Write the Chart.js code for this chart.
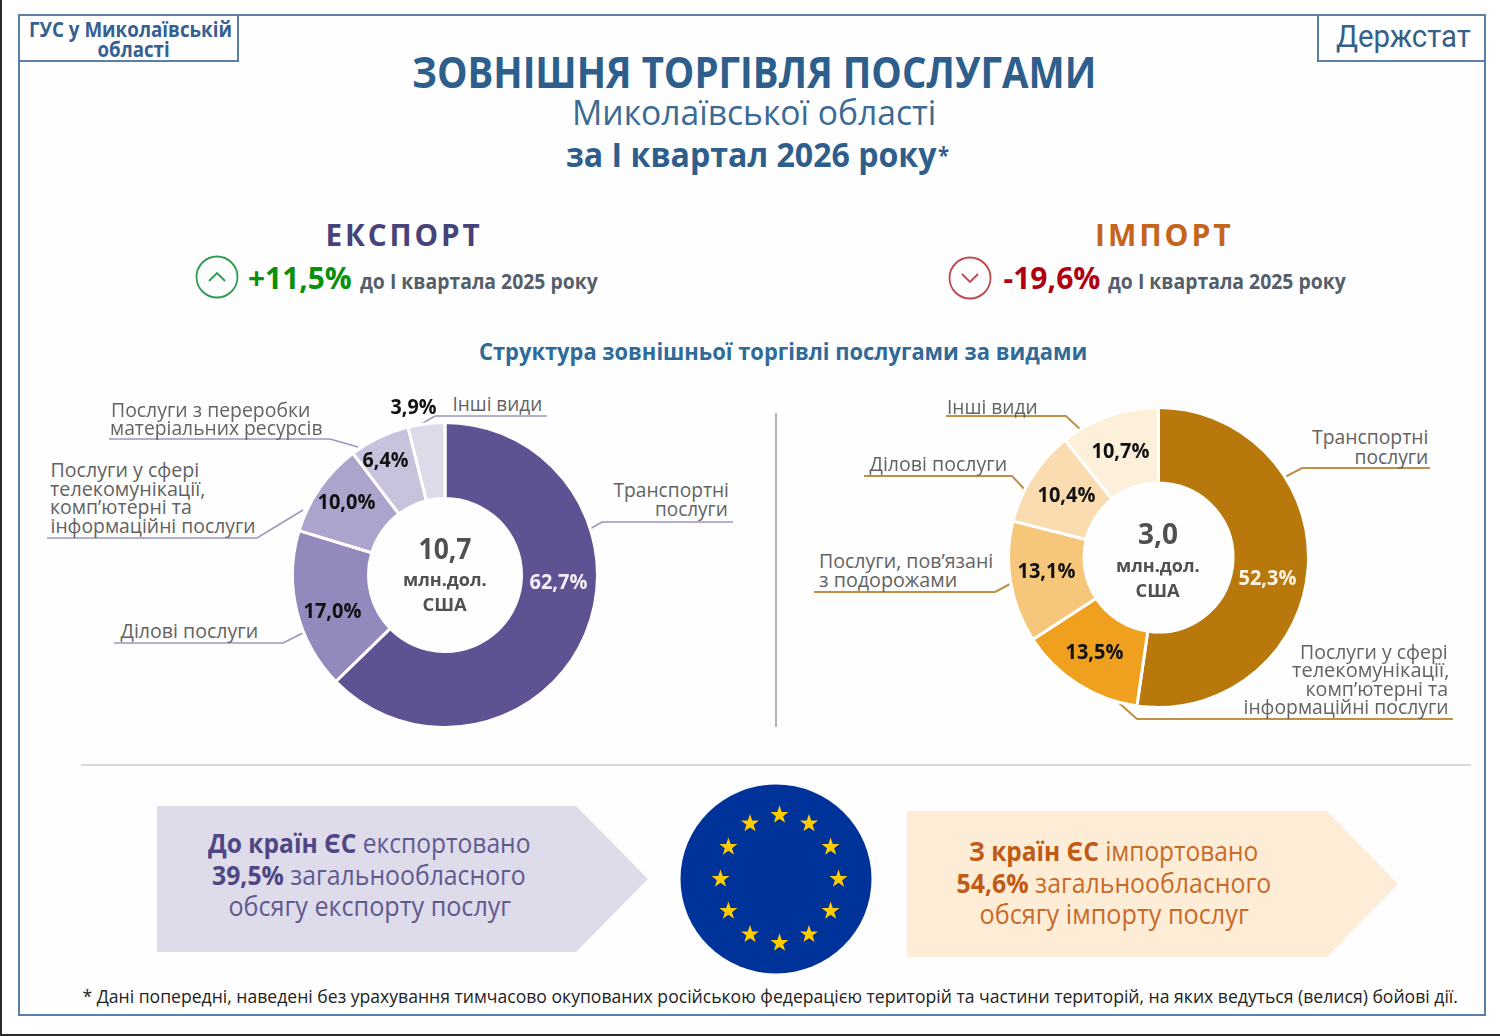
<!DOCTYPE html>
<html lang="uk">
<head>
<meta charset="utf-8">
<title>Зовнішня торгівля послугами</title>
<script src="https://cdn.jsdelivr.net/npm/chart.js@4"></script>
<style>
  html, body { margin: 0; padding: 0; background: #fff; }
  #page { position: relative; width: 1500px; height: 1036px; overflow: hidden; background: #fff;
    font-family: "Open Sans", sans-serif; }
  #edgeLeft { position: absolute; left: 0; top: 0; width: 2px; height: 1036px; background: #2a2a2a; }
  #edgeBottom { position: absolute; left: 0; top: 1034px; width: 1500px; height: 2px; background: #2a2a2a; }
  #overlay { position: absolute; left: 0; top: 0; }
  canvas { position: absolute; }
  .t { position: absolute; white-space: nowrap; line-height: 1; transform-origin: center center; }
  .b { font-weight: 700; }
  .tight { line-height: 0.85; }
  .cat { font-size: 20px; color: #636363; line-height: 0.85; }
  .head { font-size: 21px; font-weight: 700; color: #555f6b; }
  .pct { font-size: 21px; font-weight: 700; color: #111; }
  .sum { font-size: 28px; font-weight: 700; color: #505050; }
  .unit { font-size: 18px; font-weight: 700; color: #505050; }
  .ex { font-size: 27px; color: #5e5a90; }
  .ex .b { color: #4f4785; }
  .im { font-size: 27px; color: #c86a28; }
  .im .b { color: #c05a14; }
</style>
</head>
<body>
<div id="page">
  <svg id="overlay" width="1500" height="1036"></svg>
  <canvas id="exportChart"></canvas>
  <canvas id="importChart"></canvas>

  <div class="t tight" data-l="29" data-r="232" data-y="31" style="font-size:21px;font-weight:700;color:#366092">ГУС у Миколаївській</div>
  <div class="t tight" data-l="97" data-r="169" data-y="51" style="font-size:21px;font-weight:700;color:#366092">області</div>
  <div class="t" data-l="1336" data-r="1471" data-y="37" style="font-size:31px;font-family:Roboto;color:#34608a">Держстат</div>

  <div class="t" data-l="412" data-r="1096" data-y="72" style="font-size:43px;font-weight:700;color:#2e5f8c">ЗОВНІШНЯ ТОРГІВЛЯ ПОСЛУГАМИ</div>
  <div class="t" data-l="572" data-r="936" data-y="113" style="font-size:34px;color:#3b6a96">Миколаївської області</div>
  <div class="t" data-l="566" data-r="936" data-y="155" style="font-size:34px;font-weight:700;color:#2e5f8c">за І квартал 2026 року</div>
  <div class="t" data-l="938" data-r="949" data-y="156" style="font-size:24px;font-weight:700;color:#2e5f8c">*</div>

  <div class="t" data-l="325" data-r="482" data-y="235" style="font-size:31px;font-weight:700;color:#47427a;letter-spacing:3px">ЕКСПОРТ</div>
  <div class="t" data-l="1095" data-r="1234" data-y="235" style="font-size:31px;font-weight:700;color:#c5651c;letter-spacing:3px">ІМПОРТ</div>
  <div class="t" data-l="248" data-r="352" data-y="278" style="font-size:31px;font-weight:700;color:#0a8f0a">+11,5%</div>
  <div class="t head" data-l="360" data-r="598" data-y="282">до І квартала 2025 року</div>
  <div class="t" data-l="1003" data-r="1100" data-y="278" style="font-size:31px;font-weight:700;color:#b00010">-19,6%</div>
  <div class="t head" data-l="1108" data-r="1346" data-y="282">до І квартала 2025 року</div>

  <div class="t" data-l="479" data-r="1087" data-y="352" style="font-size:24px;font-weight:700;color:#2f6a98">Структура зовнішньої торгівлі послугами за видами</div>

  <!-- підписи ліворуч -->
  <div class="t cat" data-l="111" data-r="310" data-y="410">Послуги з переробки</div>
  <div class="t cat" data-l="110" data-r="323" data-y="428">матеріальних ресурсів</div>
  <div class="t cat" data-l="452" data-r="542" data-y="404">Інші види</div>
  <div class="t cat" data-l="50" data-r="199" data-y="470">Послуги у сфері</div>
  <div class="t cat" data-l="50" data-r="205" data-y="489">телекомунікації,</div>
  <div class="t cat" data-l="50" data-r="192" data-y="507">комп’ютерні та</div>
  <div class="t cat" data-l="50" data-r="255" data-y="526">інформаційні послуги</div>
  <div class="t cat" data-l="613" data-r="728" data-y="490">Транспортні</div>
  <div class="t cat" data-l="655" data-r="728" data-y="509">послуги</div>
  <div class="t cat" data-l="120" data-r="258" data-y="631">Ділові послуги</div>

  <!-- підписи праворуч -->
  <div class="t cat" data-l="947" data-r="1038" data-y="407">Інші види</div>
  <div class="t cat" data-l="869" data-r="1007" data-y="464">Ділові послуги</div>
  <div class="t cat" data-l="819" data-r="993" data-y="561">Послуги, пов’язані</div>
  <div class="t cat" data-l="819" data-r="957" data-y="580">з подорожами</div>
  <div class="t cat" data-l="1312" data-r="1428" data-y="437">Транспортні</div>
  <div class="t cat" data-l="1354" data-r="1428" data-y="457">послуги</div>
  <div class="t cat" data-l="1300" data-r="1448" data-y="652">Послуги у сфері</div>
  <div class="t cat" data-l="1292" data-r="1449" data-y="670">телекомунікації,</div>
  <div class="t cat" data-l="1305" data-r="1448" data-y="689">комп’ютерні та</div>
  <div class="t cat" data-l="1243" data-r="1448" data-y="707">інформаційні послуги</div>

  <!-- блоки про ЄС -->
  <div class="t ex" data-l="208" data-r="530" data-y="843"><span class="b">До країн ЄС</span> експортовано</div>
  <div class="t ex" data-l="212" data-r="526" data-y="875"><span class="b">39,5%</span> загальнообласного</div>
  <div class="t ex" data-l="228" data-r="511" data-y="906">обсягу експорту послуг</div>
  <div class="t im" data-l="969" data-r="1258" data-y="851"><span class="b">З країн ЄС</span> імпортовано</div>
  <div class="t im" data-l="956" data-r="1271" data-y="883"><span class="b">54,6%</span> загальнообласного</div>
  <div class="t im" data-l="979" data-r="1248" data-y="914">обсягу імпорту послуг</div>

  <div class="t" data-l="82" data-r="1457" data-y="997" style="font-size:19px;font-weight:500;color:#222">* Дані попередні, наведені без урахування тимчасово окупованих російською федерацією територій та частини територій, на яких ведуться (велися) бойові дії.</div>

  <div id="edgeLeft"></div>
  <div id="edgeBottom"></div>
</div>

<script>
// Дані
const exportCategories = ['Транспортні послуги', 'Ділові послуги', 'Телекомунікації, комп’ютерні та інформаційні', 'Переробка матеріальних ресурсів', 'Інші види'];
const exportShares = [62.7, 17.0, 10.0, 6.4, 3.9];
const exportTotal = 10.7;

const importCategories = ['Транспортні послуги', 'Телекомунікації, комп’ютерні та інформаційні', 'Послуги, пов’язані з подорожами', 'Ділові послуги', 'Інші види'];
const importShares = [52.3, 13.5, 13.1, 10.4, 10.7];
const importTotal = 3.0;

const exportColors = ['#5f5293', '#9489bd', '#ada4cd', '#c8c3dc', '#dedae9'];
const importColors = ['#b8780c', '#efa01e', '#f6c67b', '#fadcb0', '#fdf0db'];

const page = document.getElementById('page');
const overlay = document.getElementById('overlay');
const NS = 'http://www.w3.org/2000/svg';

function comma(value, digits) {
  return value.toFixed(digits).replace('.', ',');
}

// Текст ставимо за краями рядка: ширину підганяємо стисканням по x
function fitText(el) {
  const left = +el.dataset.l;
  const right = +el.dataset.r;
  const y = +el.dataset.y - 1;
  const scale = (right - left) / el.offsetWidth;
  el.style.left = ((left + right) / 2 - el.offsetWidth / 2) + 'px';
  el.style.top = (y - el.offsetHeight / 2) + 'px';
  el.style.transform = 'scaleX(' + scale + ')';
}

function addText(text, cls, left, right, y, color) {
  const el = document.createElement('div');
  el.className = 't ' + cls;
  el.textContent = text;
  el.dataset.l = left;
  el.dataset.r = right;
  el.dataset.y = y;
  if (color) el.style.color = color;
  page.appendChild(el);
  return el;
}

function svgEl(name, attrs) {
  const el = document.createElementNS(NS, name);
  Object.keys(attrs).forEach((key) => el.setAttribute(key, attrs[key]));
  overlay.appendChild(el);
  return el;
}

// Кільцева діаграма
function drawDonut(id, categories, shares, colors, cx, cy, radius, hole) {
  const canvas = document.getElementById(id);
  const size = 2 * radius + 6;
  canvas.width = size;
  canvas.height = size;
  canvas.style.left = (cx - size / 2) + 'px';
  canvas.style.top = (cy - size / 2) + 'px';
  return new Chart(canvas.getContext('2d'), {
    type: 'doughnut',
    data: {
      labels: categories,
      datasets: [{
        data: shares,
        backgroundColor: colors,
        borderColor: '#ffffff',
        borderWidth: 3,
        hoverOffset: 0,
      }],
    },
    options: {
      responsive: false,
      animation: false,
      cutout: hole - 1.5,
      layout: { padding: 0 },
      plugins: { legend: { display: false }, tooltip: { enabled: false } },
    },
  });
}

drawDonut('exportChart', exportCategories, exportShares, exportColors, 445, 575, 151, 78);
drawDonut('importChart', importCategories, importShares, importColors, 1158, 557, 148.5, 76);

// Відсотки на кільцях: [ліво, право, y] у порядку секторів
const exportLabelBoxes = [[529, 587, 582], [303, 361, 611], [317, 375, 502], [362, 408, 460], [390, 436, 407]];
const importLabelBoxes = [[1238, 1296, 578], [1065, 1123, 652], [1017, 1075, 571], [1037, 1095, 495], [1091, 1149, 451]];

exportShares.forEach((share, i) => {
  const box = exportLabelBoxes[i];
  addText(comma(share, 1) + '%', 'pct', box[0], box[1], box[2], i === 0 ? '#f2eff8' : null);
});
importShares.forEach((share, i) => {
  const box = importLabelBoxes[i];
  addText(comma(share, 1) + '%', 'pct', box[0], box[1], box[2], i === 0 ? '#fdf3e2' : null);
});

// Підсумки всередині кілець
addText(comma(exportTotal, 1), 'sum', 418, 471, 549);
addText('млн.дол.', 'unit', 403, 487, 580);
addText('США', 'unit', 422, 466, 605);
addText(comma(importTotal, 1), 'sum', 1138, 1178, 534);
addText('млн.дол.', 'unit', 1116, 1200, 566);
addText('США', 'unit', 1135, 1179, 591);

// Рамка та заголовні плашки
const frameColor = '#5b80a8';
svgEl('rect', { x: 19, y: 15, width: 1466, height: 1000, fill: '#fefefe', stroke: frameColor, 'stroke-width': 2 });
svgEl('rect', { x: 19, y: 15, width: 219, height: 46, fill: '#ffffff', stroke: frameColor, 'stroke-width': 2 });
svgEl('rect', { x: 1318, y: 15, width: 167, height: 46, fill: '#ffffff', stroke: frameColor, 'stroke-width': 2 });

// Значки зростання / зниження
svgEl('circle', { cx: 217, cy: 277, r: 20.5, fill: 'none', stroke: '#2e9b55', 'stroke-width': 1.8 });
svgEl('polyline', { points: '209,281 217,273 225,281', fill: 'none', stroke: '#2e9b55', 'stroke-width': 1.8 });
svgEl('circle', { cx: 970, cy: 278, r: 20.5, fill: 'none', stroke: '#c0474f', 'stroke-width': 1.8 });
svgEl('polyline', { points: '962,274 970,282 978,274', fill: 'none', stroke: '#c0474f', 'stroke-width': 1.8 });

// Розділові лінії
svgEl('line', { x1: 776, y1: 413, x2: 776, y2: 727, stroke: '#b0b5ba', 'stroke-width': 2 });
svgEl('line', { x1: 81, y1: 765, x2: 1471, y2: 765, stroke: '#c8cdd0', 'stroke-width': 1.5 });

// Виноски до секторів
const exportLeaders = [
  '109,439 330,439 358,447',
  '547,416 435,416 418,426',
  '47,538 257,538 303,510',
  '733,522 602,522 583,533',
  '114,643 283,643 303,633',
];
const importLeaders = [
  '946,416 1066,416 1082,431',
  '864,476 1012,476 1027,492',
  '814,592 995,592 1012,583',
  '1430,468 1302,468 1285,477',
  '1453,719 1137,719 1118,702',
];
exportLeaders.forEach((points) => {
  svgEl('polyline', { points: points, fill: 'none', stroke: '#9c94c0', 'stroke-width': 1.5 });
});
importLeaders.forEach((points) => {
  svgEl('polyline', { points: points, fill: 'none', stroke: '#c08f48', 'stroke-width': 2 });
});

// Стрілки-блоки
svgEl('polygon', { points: '157,806 576,806 648,879 576,952 157,952', fill: '#dedbea' });
svgEl('polygon', { points: '907,811 1327,811 1398,884 1327,957 907,957', fill: '#fdedd7' });

// Прапор ЄС
svgEl('ellipse', { cx: 776, cy: 879, rx: 95.5, ry: 94.5, fill: '#003399' });
for (let i = 0; i < 12; i++) {
  const a = i * Math.PI / 6;
  const sx = 779.5 + 59 * Math.sin(a);
  const sy = 879 - 64 * Math.cos(a);
  const pts = [];
  for (let k = 0; k < 10; k++) {
    const r = k % 2 === 0 ? 9.5 : 3.8;
    const b = k * Math.PI / 5;
    pts.push((sx + r * Math.sin(b)).toFixed(1) + ',' + (sy - r * Math.cos(b)).toFixed(1));
  }
  svgEl('polygon', { points: pts.join(' '), fill: '#ffcc00' });
}

document.querySelectorAll('.t').forEach(fitText);
</script>
</body>
</html>
